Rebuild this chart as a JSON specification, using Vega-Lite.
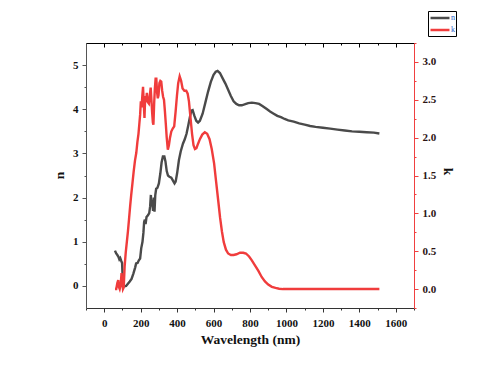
{
  "$schema": "https://vega.github.io/schema/vega-lite/v6.json",
  "width": 328,
  "height": 265,
  "autosize": {"type": "none"},
  "padding": {"left": 86, "top": 43, "right": 68, "bottom": 63},
  "background": "white",
  "config": {
    "view": {"stroke": null},
    "axis": {
      "labelFont": "Liberation Serif",
      "labelFontWeight": "bold",
      "labelFontSize": 11,
      "titleFont": "Liberation Serif",
      "titleFontWeight": "bold",
      "titleFontSize": 13.5,
      "grid": false,
      "tickSize": 4,
      "domainWidth": 1,
      "tickWidth": 1
    }
  },
  "datasets": {
    "nd": [
      {"wl": 59, "n": 0.80}, {"wl": 65, "n": 0.74}, {"wl": 72, "n": 0.70}, {"wl": 78, "n": 0.66}, {"wl": 83, "n": 0.60},
      {"wl": 88, "n": 0.63}, {"wl": 93, "n": 0.57}, {"wl": 98, "n": 0.52}, {"wl": 101, "n": 0.20}, {"wl": 104, "n": 0.05},
      {"wl": 110, "n": -0.01}, {"wl": 120, "n": 0.00}, {"wl": 130, "n": 0.05}, {"wl": 140, "n": 0.10}, {"wl": 150, "n": 0.16},
      {"wl": 160, "n": 0.28}, {"wl": 170, "n": 0.42}, {"wl": 175, "n": 0.51}, {"wl": 183, "n": 0.52}, {"wl": 190, "n": 0.58},
      {"wl": 197, "n": 0.62}, {"wl": 203, "n": 0.85}, {"wl": 210, "n": 1.00}, {"wl": 215, "n": 1.20}, {"wl": 219, "n": 1.45},
      {"wl": 223, "n": 1.50}, {"wl": 227, "n": 1.40}, {"wl": 232, "n": 1.56}, {"wl": 240, "n": 1.60}, {"wl": 247, "n": 1.65},
      {"wl": 252, "n": 1.80}, {"wl": 256, "n": 2.06}, {"wl": 259, "n": 1.80}, {"wl": 263, "n": 1.95}, {"wl": 268, "n": 1.70},
      {"wl": 272, "n": 2.00}, {"wl": 276, "n": 1.68}, {"wl": 280, "n": 2.05}, {"wl": 285, "n": 2.20}, {"wl": 292, "n": 2.22},
      {"wl": 300, "n": 2.32}, {"wl": 308, "n": 2.55}, {"wl": 315, "n": 2.80}, {"wl": 322, "n": 2.93}, {"wl": 330, "n": 2.93},
      {"wl": 336, "n": 2.82}, {"wl": 343, "n": 2.60}, {"wl": 350, "n": 2.50}, {"wl": 358, "n": 2.47}, {"wl": 368, "n": 2.45},
      {"wl": 378, "n": 2.38}, {"wl": 386, "n": 2.32}, {"wl": 392, "n": 2.36}, {"wl": 400, "n": 2.55}, {"wl": 410, "n": 2.85},
      {"wl": 420, "n": 3.05}, {"wl": 432, "n": 3.22}, {"wl": 442, "n": 3.32}, {"wl": 452, "n": 3.45}, {"wl": 462, "n": 3.65},
      {"wl": 470, "n": 3.82}, {"wl": 478, "n": 3.97}, {"wl": 485, "n": 3.98}, {"wl": 495, "n": 3.85}, {"wl": 505, "n": 3.74},
      {"wl": 515, "n": 3.70}, {"wl": 525, "n": 3.74}, {"wl": 540, "n": 3.90}, {"wl": 555, "n": 4.15}, {"wl": 570, "n": 4.40},
      {"wl": 585, "n": 4.62}, {"wl": 600, "n": 4.78}, {"wl": 612, "n": 4.85}, {"wl": 622, "n": 4.87}, {"wl": 635, "n": 4.82},
      {"wl": 650, "n": 4.70}, {"wl": 665, "n": 4.58}, {"wl": 680, "n": 4.44}, {"wl": 695, "n": 4.30}, {"wl": 710, "n": 4.18},
      {"wl": 725, "n": 4.12}, {"wl": 740, "n": 4.09}, {"wl": 755, "n": 4.09}, {"wl": 770, "n": 4.11}, {"wl": 790, "n": 4.14},
      {"wl": 810, "n": 4.15}, {"wl": 830, "n": 4.14}, {"wl": 850, "n": 4.12}, {"wl": 870, "n": 4.07}, {"wl": 890, "n": 4.01},
      {"wl": 910, "n": 3.95}, {"wl": 930, "n": 3.90}, {"wl": 950, "n": 3.85}, {"wl": 970, "n": 3.82}, {"wl": 990, "n": 3.78},
      {"wl": 1010, "n": 3.75}, {"wl": 1040, "n": 3.72}, {"wl": 1070, "n": 3.68}, {"wl": 1100, "n": 3.65}, {"wl": 1130, "n": 3.62},
      {"wl": 1160, "n": 3.60}, {"wl": 1200, "n": 3.58}, {"wl": 1240, "n": 3.56}, {"wl": 1280, "n": 3.54}, {"wl": 1320, "n": 3.52},
      {"wl": 1360, "n": 3.50}, {"wl": 1400, "n": 3.49}, {"wl": 1440, "n": 3.48}, {"wl": 1480, "n": 3.47}, {"wl": 1510, "n": 3.45}
    ],
    "kd": [
      {"wl": 59, "k": 0.00}, {"wl": 66, "k": 0.00}, {"wl": 72, "k": 0.08}, {"wl": 77, "k": 0.12}, {"wl": 80, "k": 0.03},
      {"wl": 85, "k": 0.00}, {"wl": 90, "k": 0.05}, {"wl": 95, "k": 0.21}, {"wl": 99, "k": 0.10}, {"wl": 103, "k": 0.00},
      {"wl": 107, "k": 0.02}, {"wl": 112, "k": 0.30}, {"wl": 118, "k": 0.48}, {"wl": 124, "k": 0.62}, {"wl": 130, "k": 0.76},
      {"wl": 136, "k": 0.92}, {"wl": 142, "k": 1.09}, {"wl": 148, "k": 1.24}, {"wl": 155, "k": 1.40}, {"wl": 162, "k": 1.56},
      {"wl": 169, "k": 1.70}, {"wl": 176, "k": 1.80}, {"wl": 182, "k": 1.94}, {"wl": 188, "k": 2.05}, {"wl": 193, "k": 2.19},
      {"wl": 197, "k": 2.30}, {"wl": 201, "k": 2.48}, {"wl": 205, "k": 2.40}, {"wl": 209, "k": 2.55}, {"wl": 213, "k": 2.67},
      {"wl": 217, "k": 2.45}, {"wl": 221, "k": 2.26}, {"wl": 225, "k": 2.55}, {"wl": 229, "k": 2.47}, {"wl": 234, "k": 2.59},
      {"wl": 239, "k": 2.47}, {"wl": 245, "k": 2.45}, {"wl": 250, "k": 2.55}, {"wl": 255, "k": 2.66}, {"wl": 259, "k": 2.50},
      {"wl": 263, "k": 2.33}, {"wl": 267, "k": 2.20}, {"wl": 270, "k": 2.17}, {"wl": 274, "k": 2.45}, {"wl": 278, "k": 2.65},
      {"wl": 282, "k": 2.78}, {"wl": 286, "k": 2.78}, {"wl": 290, "k": 2.60}, {"wl": 294, "k": 2.52}, {"wl": 298, "k": 2.56},
      {"wl": 303, "k": 2.72}, {"wl": 308, "k": 2.75}, {"wl": 313, "k": 2.74}, {"wl": 318, "k": 2.62}, {"wl": 323, "k": 2.54},
      {"wl": 328, "k": 2.50}, {"wl": 333, "k": 2.35}, {"wl": 338, "k": 2.18}, {"wl": 343, "k": 2.00}, {"wl": 349, "k": 1.84},
      {"wl": 355, "k": 1.90}, {"wl": 361, "k": 2.00}, {"wl": 368, "k": 2.08}, {"wl": 376, "k": 2.12}, {"wl": 384, "k": 2.15},
      {"wl": 392, "k": 2.35}, {"wl": 399, "k": 2.55}, {"wl": 406, "k": 2.72}, {"wl": 414, "k": 2.81}, {"wl": 422, "k": 2.75},
      {"wl": 430, "k": 2.65}, {"wl": 440, "k": 2.62}, {"wl": 450, "k": 2.62}, {"wl": 458, "k": 2.58}, {"wl": 465, "k": 2.48},
      {"wl": 470, "k": 2.35}, {"wl": 476, "k": 2.20}, {"wl": 482, "k": 2.05}, {"wl": 490, "k": 1.90}, {"wl": 498, "k": 1.85},
      {"wl": 506, "k": 1.86}, {"wl": 515, "k": 1.92}, {"wl": 525, "k": 1.98}, {"wl": 538, "k": 2.04}, {"wl": 552, "k": 2.07},
      {"wl": 565, "k": 2.05}, {"wl": 578, "k": 1.98}, {"wl": 590, "k": 1.85}, {"wl": 603, "k": 1.66}, {"wl": 614, "k": 1.42},
      {"wl": 626, "k": 1.16}, {"wl": 636, "k": 0.94}, {"wl": 646, "k": 0.76}, {"wl": 656, "k": 0.62}, {"wl": 668, "k": 0.52},
      {"wl": 680, "k": 0.47}, {"wl": 695, "k": 0.45}, {"wl": 710, "k": 0.45}, {"wl": 726, "k": 0.46}, {"wl": 745, "k": 0.48},
      {"wl": 763, "k": 0.48}, {"wl": 778, "k": 0.47}, {"wl": 795, "k": 0.43}, {"wl": 810, "k": 0.38}, {"wl": 828, "k": 0.31},
      {"wl": 846, "k": 0.24}, {"wl": 864, "k": 0.16}, {"wl": 882, "k": 0.10}, {"wl": 900, "k": 0.06}, {"wl": 920, "k": 0.03},
      {"wl": 940, "k": 0.015}, {"wl": 960, "k": 0.005}, {"wl": 980, "k": 0.0}, {"wl": 1000, "k": 0.0}, {"wl": 1100, "k": 0.0},
      {"wl": 1200, "k": 0.0}, {"wl": 1300, "k": 0.0}, {"wl": 1400, "k": 0.0}, {"wl": 1510, "k": 0.0}
    ]
  },
  "layer": [
    {
      "data": {"name": "nd"},
      "mark": {"type": "line", "opacity": 0},
      "encoding": {
        "x": {"field": "wl", "type": "quantitative", "scale": {"domain": [-100, 1700], "nice": false, "zero": false},
          "axis": {"orient": "bottom", "values": [-100, 100, 300, 500, 700, 900, 1100, 1300, 1500, 1700], "labels": false, "domain": false, "tickSize": 2, "tickColor": "#333", "title": null}},
        "y": {"field": "n", "type": "quantitative", "scale": {"domain": [-0.5, 5.5], "nice": false, "zero": false},
          "axis": {"orient": "left", "values": [0.5, 1.5, 2.5, 3.5, 4.5], "labels": false, "domain": false, "tickSize": 2, "tickColor": "#555", "title": null}}
      }
    },
    {
      "data": {"name": "kd"},
      "mark": {"type": "line", "opacity": 0},
      "encoding": {
        "x": {"field": "wl", "type": "quantitative", "scale": {"domain": [-100, 1700], "nice": false, "zero": false},
          "axis": {"orient": "top", "values": [-100, 100, 300, 500, 700, 900, 1100, 1300, 1500, 1700], "labels": false, "domain": false, "tickSize": -2, "tickColor": "#000", "title": null}},
        "y": {"field": "k", "type": "quantitative", "scale": {"domain": [-0.25, 3.25], "nice": false, "zero": false},
          "axis": {"orient": "right", "values": [-0.25, 0.25, 0.75, 1.25, 1.75, 2.25, 2.75, 3.25], "labels": false, "domain": false, "tickSize": 2, "tickColor": "#f04040", "title": null}}
      }
    },
    {
      "data": {"name": "nd"},
      "mark": {"type": "line", "strokeWidth": 2.4},
      "encoding": {
        "x": {"field": "wl", "type": "quantitative", "scale": {"domain": [-100, 1700], "nice": false, "zero": false},
          "axis": {"orient": "bottom", "values": [0, 200, 400, 600, 800, 1000, 1200, 1400, 1600], "format": "d", "title": "Wavelength (nm)",
            "domainColor": "#333", "tickColor": "#333", "labelColor": "#111", "labelPadding": 5,
            "titleX": 164, "titleY": 35, "titleBaseline": "alphabetic", "titleColor": "#111"}},
        "y": {"field": "n", "type": "quantitative", "scale": {"domain": [-0.5, 5.5], "nice": false, "zero": false},
          "axis": {"orient": "left", "values": [0, 1, 2, 3, 4, 5], "title": "n", "domainColor": "#555", "tickColor": "#555",
            "labelColor": "#111", "labelPadding": 4, "titleX": -23, "titleY": 132, "titleBaseline": "alphabetic", "titleColor": "#111"}},
        "color": {"datum": "n", "type": "nominal", "scale": {"domain": ["n", "k"], "range": ["#4a4a4a", "#f03c3c"]},
          "legend": {"title": null, "orient": "none", "legendX": 342, "legendY": -32, "strokeColor": "#000", "fillColor": "#fff",
            "padding": 1, "symbolType": "M-1,0H3.22", "symbolSize": 81, "symbolStrokeWidth": 2.5, "labelFontSize": 8,
            "labelColor": "#2a5cc8", "labelFont": "Liberation Serif", "rowPadding": 1, "labelOffset": 10}}
      }
    },
    {
      "data": {"name": "kd"},
      "mark": {"type": "line", "strokeWidth": 2.4},
      "encoding": {
        "x": {"field": "wl", "type": "quantitative", "scale": {"domain": [-100, 1700], "nice": false, "zero": false},
          "axis": {"orient": "top", "values": [0, 200, 400, 600, 800, 1000, 1200, 1400, 1600], "labels": false, "tickSize": -4,
            "domainColor": "#000", "tickColor": "#000", "title": null}},
        "y": {"field": "k", "type": "quantitative", "scale": {"domain": [-0.25, 3.25], "nice": false, "zero": false},
          "axis": {"orient": "right", "values": [0, 0.5, 1, 1.5, 2, 2.5, 3], "format": ".1f", "title": "k",
            "domainColor": "#f04040", "tickColor": "#f04040", "labelColor": "#2b1414", "labelPadding": 4,
            "titleX": 29, "titleY": 128, "titleAngle": 90, "titleBaseline": "alphabetic", "titleColor": "#111"}},
        "color": {"datum": "k", "type": "nominal"}
      }
    }
  ],
  "resolve": {"scale": {"y": "independent"}, "axis": {"x": "independent", "y": "independent"}}
}
